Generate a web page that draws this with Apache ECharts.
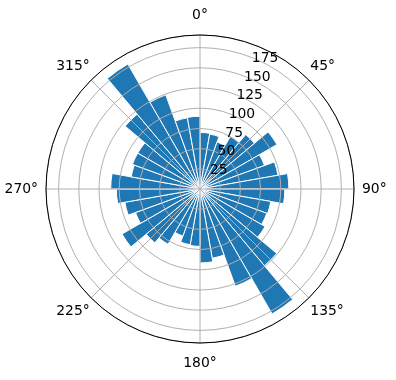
<!DOCTYPE html>
<html>
<head>
<meta charset="utf-8">
<script src="https://cdn.jsdelivr.net/npm/echarts@6/dist/echarts.min.js"></script>
<style>
html,body{margin:0;padding:0;background:#fff;}
#chart{width:396px;height:380px;}
</style>
</head>
<body>
<div id="chart"></div>
<script>
// Direction bins (degrees, start of each 10° bin, clockwise from north)
var binStarts = ['0','10','20','30','40','50','60','70','80','90','100','110',
                 '120','130','140','150','160','170','180','190','200','210','220','230',
                 '240','250','260','270','280','290','300','310','320','330','340','350'];
// Bar lengths for each bin
var counts = [70, 69, 62, 75, 88, 110, 85, 98, 110, 105, 89, 88,
              93, 124, 178.5, 128, 87, 91.5, 71, 70, 62, 79, 87, 111.5,
              85, 94.5, 103.5, 110.5, 86.5, 89, 89, 121, 178.5, 124, 89.5, 90];
// Tick labels
var angleTicks = [0, 45, 90, 135, 180, 225, 270, 315];
var radiusTicks = [25, 50, 75, 100, 125, 150, 175];
var rMax = 190.6;

var FONT = 'DejaVu Sans';
var FS = 13.9;
var center = [200, 189];
var radius = 154;

function angleLabel(v) {
  var s = v + '°';
  if (v === 0 || v === 180) return '{v|' + s + '}';
  if (v === 90) return '{r|' + s + '}';
  if (v === 270) return '{l|' + s + '}';
  return '{c|' + s + '}';
}
var richBase = {fontFamily: FONT, fontSize: FS, color: '#000'};
function rs(extra){ var o = {}; for (var k in richBase) o[k]=richBase[k]; for (var k2 in extra) o[k2]=extra[k2]; return o; }

var chart = echarts.init(document.getElementById('chart'), null, {renderer: 'canvas'});
chart.setOption({
  animation: false,
  backgroundColor: '#fff',
  polar: [
    {center: center, radius: radius},
    {center: center, radius: radius},
    {center: center, radius: radius}
  ],
  angleAxis: [
    {
      polarIndex: 0, type: 'category', data: binStarts,
      startAngle: 90, clockwise: true, boundaryGap: true,
      axisLine: {show: false}, axisTick: {show: false},
      axisLabel: {show: false}, splitLine: {show: false}
    },
    {
      polarIndex: 1, type: 'value', min: 0, max: 360, interval: 45,
      startAngle: 90, clockwise: true, z: 11,
      axisLine: {show: true, lineStyle: {color: '#000', width: 1}},
      axisTick: {show: false},
      splitLine: {show: true, lineStyle: {color: '#b0b0b0', width: 1}},
      axisLabel: {
        show: true, margin: 2,
        formatter: function (v) {
          return angleTicks.indexOf(v) >= 0 ? angleLabel(v) : '';
        },
        rich: {
          v: rs({lineHeight: 36}),
          c: rs({lineHeight: 24}),
          r: rs({padding: [0, 0, 0, 6]}),
          l: rs({padding: [0, 6, 0, 0]})
        }
      }
    },
    {
      polarIndex: 2, type: 'value', min: 0, max: 360,
      startAngle: 67.5, clockwise: true,
      axisLine: {show: false}, axisTick: {show: false},
      axisLabel: {show: false}, splitLine: {show: false}
    }
  ],
  radiusAxis: [
    {
      polarIndex: 0, type: 'value', min: 0, max: rMax,
      axisLine: {show: false}, axisTick: {show: false},
      axisLabel: {show: false}, splitLine: {show: false}
    },
    {
      polarIndex: 1, type: 'value', min: 0, max: rMax, interval: 25, z: 10,
      axisLine: {show: false}, axisTick: {show: false},
      axisLabel: {show: false},
      splitLine: {show: true, lineStyle: {color: '#b0b0b0', width: 1}}
    },
    {
      polarIndex: 2, type: 'value', min: 0, max: rMax, interval: 25, z: 12,
      axisLine: {show: false}, axisTick: {show: false},
      splitLine: {show: false},
      axisLabel: {
        show: true, margin: 0, rotate: 0,
        align: 'center', verticalAlign: 'middle',
        padding: [0, 0, 20, 22],
        fontFamily: FONT, fontSize: FS, color: '#000',
        formatter: function (v) {
          return radiusTicks.indexOf(v) >= 0 ? String(v) : '';
        }
      }
    }
  ],
  series: [{
    type: 'bar',
    coordinateSystem: 'polar',
    polarIndex: 0,
    data: counts,
    barCategoryGap: '0%',
    itemStyle: {color: '#1f77b4', borderColor: '#ffffff', borderWidth: 1},
    z: 2
  }]
});
</script>
</body>
</html>
